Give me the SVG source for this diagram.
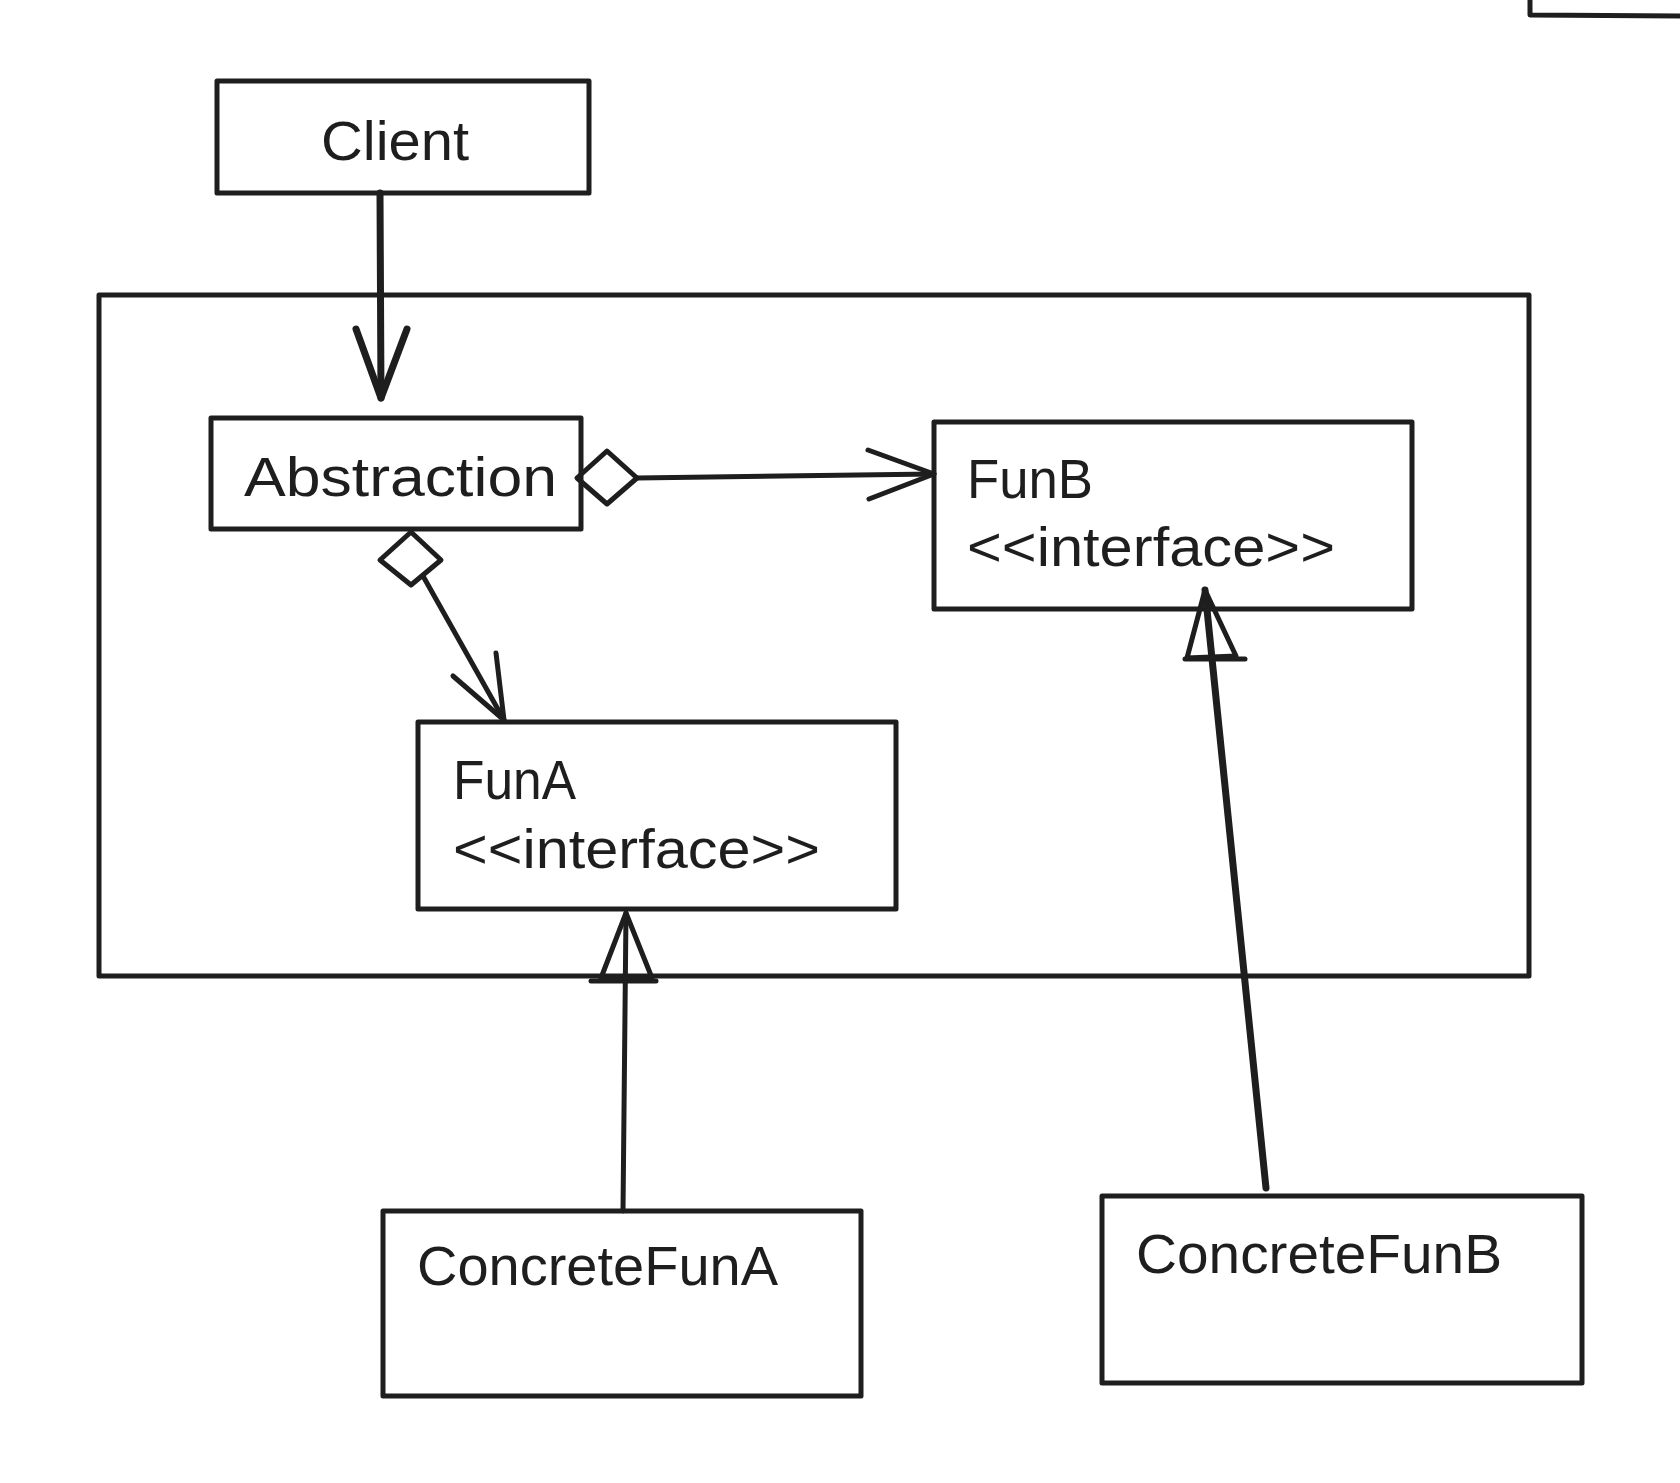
<svg xmlns="http://www.w3.org/2000/svg" width="1680" height="1483" viewBox="0 0 1680 1483">
<style>
.box{fill:none;stroke:#1e1e1e;stroke-width:5;stroke-linejoin:round;stroke-linecap:round}
.ln{fill:none;stroke:#1e1e1e;stroke-width:5;stroke-linecap:round;stroke-linejoin:round}
.thick{stroke-width:7}
.t{font-family:"Liberation Sans",Arial,sans-serif;font-size:56px;fill:#1e1e1e}
</style>
<rect width="1680" height="1483" fill="#ffffff"/>
<g id="partial-box"><path class="box" d="M1530,-5 L1530,15 L1690,16"/></g>
<g id="container"><rect class="box" x="99" y="295" width="1430" height="681"/></g>
<g id="client"><rect class="box" x="217" y="81" width="372" height="112"/><text class="t" x="395" y="160" text-anchor="middle" textLength="148" lengthAdjust="spacingAndGlyphs">Client</text></g>
<g id="abstraction"><rect class="box" x="211" y="418" width="370" height="111"/><text class="t" x="244" y="496" textLength="313" lengthAdjust="spacingAndGlyphs">Abstraction</text></g>
<g id="funB"><rect class="box" x="934" y="422" width="478" height="187"/><text class="t" x="967" y="498" textLength="126" lengthAdjust="spacingAndGlyphs">FunB</text><text class="t" x="967" y="566" textLength="368" lengthAdjust="spacingAndGlyphs">&lt;&lt;interface&gt;&gt;</text></g>
<g id="funA"><rect class="box" x="418" y="722" width="478" height="187"/><text class="t" x="453" y="799" textLength="123" lengthAdjust="spacingAndGlyphs">FunA</text><text class="t" x="453" y="868" textLength="367" lengthAdjust="spacingAndGlyphs">&lt;&lt;interface&gt;&gt;</text></g>
<g id="concreteFunA"><rect class="box" x="383" y="1211" width="478" height="185"/><text class="t" x="417" y="1285" textLength="361" lengthAdjust="spacingAndGlyphs">ConcreteFunA</text></g>
<g id="concreteFunB"><rect class="box" x="1102" y="1196" width="480" height="187"/><text class="t" x="1136" y="1273" textLength="366" lengthAdjust="spacingAndGlyphs">ConcreteFunB</text></g>
<g id="connectors">
<path class="ln thick" d="M380,193 L381,398"/>
<path class="ln thick" d="M356,329 L381,398 L407,329"/>
<polygon class="ln" points="577,478 607,451 637,478 607,504"/>
<path class="ln" d="M637,478 L934,474"/>
<path class="ln" d="M868,450 L934,474 L869,499"/>
<polygon class="ln" points="411,532 441,560 411,585 380,560"/>
<path class="ln" d="M423,576 L504,720"/>
<path class="ln" d="M453,676 L504,720 L496,653"/>
<path class="ln" d="M623,1211 L626,913"/>
<path class="ln" d="M626,913 L601,978 L652,978 Z"/>
<path class="ln" d="M591,981 L656,981"/>
<path class="ln thick" d="M1266,1188 L1205,590"/>
<path class="ln" d="M1205,590 L1187,658 L1236,656 Z"/>
<path class="ln" d="M1185,659 L1245,659"/>
</g>
</svg>
